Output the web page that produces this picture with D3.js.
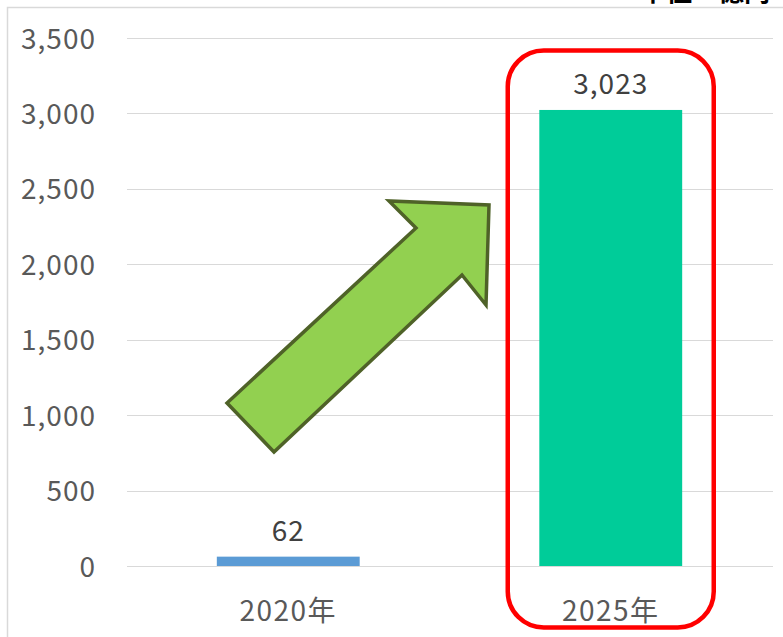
<!DOCTYPE html>
<html><head><meta charset="utf-8">
<script src="https://cdn.jsdelivr.net/npm/d3@7"></script>
<style>
html,body{margin:0;padding:0;background:#fff;}
svg{display:block;font-family:"Noto Sans CJK JP","Noto Sans",sans-serif;}
</style></head>
<body>
<script>
const categories = ["2020年", "2025年"];
const values = [62, 3023];
const yTicks = [0, 500, 1000, 1500, 2000, 2500, 3000, 3500];
const unitLabel = "単位：億円";
const barColors = ["#5B9BD5", "#00CC99"];

const W = 783, H = 637;
const FONT = "'Noto Sans CJK JP','Noto Sans',sans-serif";
const svg = d3.select("body").append("svg").attr("width", W).attr("height", H);

// chart border
svg.append("rect").attr("x", 7.5).attr("y", 7.5).attr("width", 900).attr("height", 900)
  .attr("fill", "none").attr("stroke", "#d9d9d9").attr("stroke-width", 1.5);

const plot = {left: 127, right: 772, top: 38, bottom: 566};
const x = d3.scaleBand().domain(categories).range([plot.left, plot.right])
  .paddingInner(0.557).paddingOuter(0.2785);
const y = d3.scaleLinear().domain([0, 3500]).range([plot.bottom, plot.top]);

// gridlines
svg.append("g").selectAll("line").data(yTicks).join("line")
  .attr("x1", plot.left).attr("x2", plot.right + 1)
  .attr("y1", d => Math.round(y(d)) + 0.5).attr("y2", d => Math.round(y(d)) + 0.5)
  .attr("stroke", "#d9d9d9").attr("stroke-width", 1);

// y axis labels
const yAxis = d3.axisLeft(y).tickValues(yTicks).tickFormat(d3.format(",")).tickSize(0).tickPadding(0);
const gy = svg.append("g").attr("transform", "translate(96,0)").call(yAxis);
gy.select(".domain").remove();
gy.selectAll("text").attr("fill", "#595959").attr("font-size", 28)
  .attr("letter-spacing", 1)
  .attr("font-family", FONT).attr("dy", "0.36em");

// x axis labels
const xAxis = d3.axisBottom(x).tickSize(0).tickPadding(0);
const gx = svg.append("g").attr("transform", "translate(0,621)").call(xAxis);
gx.select(".domain").remove();
gx.selectAll("text").attr("fill", "#595959").attr("font-size", 28)
  .attr("letter-spacing", 1.5)
  .attr("font-family", FONT).attr("dy", 0);

// bars
svg.append("g").selectAll("rect").data(values).join("rect")
  .attr("x", (d, i) => x(categories[i]))
  .attr("width", x.bandwidth())
  .attr("y", d => y(d))
  .attr("height", d => y(0) - y(d))
  .attr("fill", (d, i) => barColors[i]);

// data labels
svg.append("g").selectAll("text").data(values).join("text")
  .attr("x", (d, i) => x(categories[i]) + x.bandwidth() / 2)
  .attr("y", d => y(d) - 16)
  .attr("text-anchor", "middle")
  .attr("letter-spacing", 1)
  .attr("fill", "#404040").attr("font-size", 28)
  .text(d => d3.format(",")(d));

// red highlight box around 2025
const cx25 = x(categories[1]) + x.bandwidth() / 2;
svg.append("rect")
  .attr("x", cx25 - 103).attr("y", 50.5)
  .attr("width", 206).attr("height", 577)
  .attr("rx", 36).attr("ry", 36)
  .attr("fill", "none").attr("stroke", "#FF0000").attr("stroke-width", 4.5);

// green arrow annotation
const arrowPts = [[227,403],[274,452],[462,275],[486,305],[489,205],[389,201],[416,228]];
svg.append("polygon")
  .attr("points", arrowPts.map(p => p.join(",")).join(" "))
  .attr("fill", "#92D050").attr("stroke", "#4F6228").attr("stroke-width", 3.5)
  .attr("stroke-linejoin", "miter");

// unit label (clipped at top, as in the reference)
svg.append("text").attr("x", 770).attr("y", 1)
  .attr("text-anchor", "end").attr("font-size", 26).attr("font-weight", "bold")
  .attr("fill", "#000").text(unitLabel);
</script>
</body></html>
